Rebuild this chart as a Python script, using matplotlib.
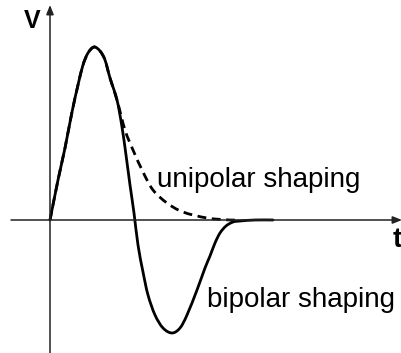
import matplotlib
matplotlib.use("Agg")
import matplotlib.pyplot as plt
from matplotlib.path import Path
from matplotlib.patches import PathPatch

plt.rcParams['font.family'] = ['Liberation Sans', 'DejaVu Sans']

# Shaper output pulse: time vs. voltage (arbitrary units)
bipolar_t = [0, 8, 15, 22, 28, 33, 38, 44, 50, 55, 60, 67, 72, 76, 80, 84, 88,
             93, 98, 105, 113, 122, 130, 137, 147, 155, 160, 165, 170, 176,
             183, 190, 205, 223]
bipolar_v = [0, 40, 72, 108, 135, 155, 167, 173, 169, 160, 142, 120, 93, 65,
             35, 7, -25, -52, -75, -95, -108, -113, -108, -95, -70, -48, -36,
             -23, -13, -6, -2, -1, 0, 0]

unipolar_t = [0, 8, 15, 22, 28, 33, 38, 44, 50, 55, 60, 67, 75, 83, 93, 103,
              117, 133, 157, 180, 190]
unipolar_v = [0, 40, 72, 108, 135, 155, 167, 173, 169, 160, 142, 120, 90, 70,
              48, 30, 17, 8, 2, 0, 0]

labels = {"unipolar": "unipolar shaping", "bipolar": "bipolar shaping"}


def smooth_path(xs, ys):
    """Catmull-Rom curve through the samples, as cubic Bezier segments."""
    pts = list(zip(xs, ys))
    verts = [pts[0]]
    codes = [Path.MOVETO]
    n = len(pts)
    for i in range(n - 1):
        p0 = pts[i - 1] if i > 0 else pts[i]
        p1 = pts[i]
        p2 = pts[i + 1]
        p3 = pts[i + 2] if i + 2 < n else pts[i + 1]
        c1 = (p1[0] + (p2[0] - p0[0]) / 6, p1[1] + (p2[1] - p0[1]) / 6)
        c2 = (p2[0] - (p3[0] - p1[0]) / 6, p2[1] - (p3[1] - p1[1]) / 6)
        verts += [c1, c2, p2]
        codes += [Path.CURVE4] * 3
    return Path(verts, codes)


fig = plt.figure(figsize=(4.02, 3.53), dpi=100)
ax = fig.add_axes([0, 0, 1, 1])
ax.set_xlim(-50, 352)
ax.set_ylim(-133, 220)
ax.axis('off')

axis_col = '#222222'
arrow = dict(arrowstyle='-|>,head_length=0.55,head_width=0.22',
             color=axis_col, lw=1.1, shrinkA=0, shrinkB=0)
# time axis
ax.annotate('', xy=(352, 0), xytext=(-39, 0), arrowprops=arrow)
# voltage axis
ax.annotate('', xy=(0, 215), xytext=(0, -133), arrowprops=arrow)

ax.add_patch(PathPatch(smooth_path(unipolar_t, unipolar_v), fill=False,
                       edgecolor='black', lw=2.0, linestyle=(0, (3.2, 2.0)),
                       capstyle='butt', joinstyle='round'))
ax.add_patch(PathPatch(smooth_path(bipolar_t, bipolar_v), fill=False,
                       edgecolor='black', lw=2.0, capstyle='round',
                       joinstyle='round'))

ax.text(107, 33, labels["unipolar"], fontsize=20, ha='left', va='baseline')
ax.text(157, -87, labels["bipolar"], fontsize=20, ha='left', va='baseline')
ax.text(-18, 192, 'V', fontsize=18, fontweight='bold', ha='center',
        va='baseline')
ax.text(343, -27, 't', fontsize=20, fontweight='bold', ha='left',
        va='baseline')

fig.savefig('out.png', dpi=100)
